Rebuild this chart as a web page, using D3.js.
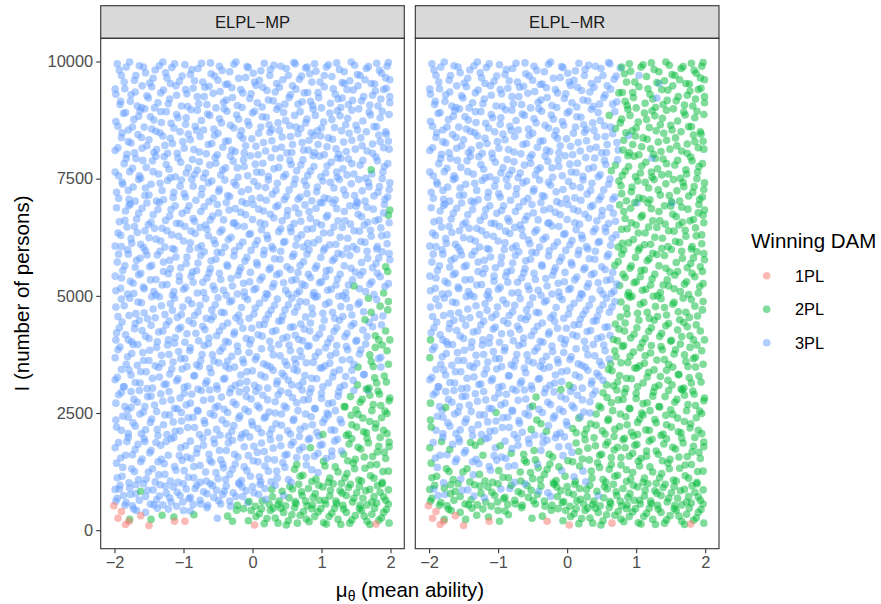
<!DOCTYPE html>
<html><head><meta charset="utf-8">
<script src="https://cdn.jsdelivr.net/npm/d3@7"></script>
<style>body{margin:0;background:#fff} text{font-family:"Liberation Sans",Arial,Helvetica,sans-serif}</style>
</head><body><svg id="c" width="881" height="604"></svg>
<script>
const panels = ["ELPL\u2212MP", "ELPL\u2212MR"];
const classes = ["1PL", "2PL", "3PL"];
const classColors = ["#F8766D", "#00BA38", "#619CFF"];
const xTicks = [-2, -1, 0, 1, 2];
const yTicks = [0, 2500, 5000, 7500, 10000];

// [mu, I] — winning DAM: 3PL in ELPL-MP and 3PL in ELPL-MR
const win3PL_3PL = [
[-1.96,9950],[-1.9,9700],[-1.83,9880],[-1.71,9600],[-1.64,9910],[-1.55,9760],[-1.49,9540],[-1.41,9820],[-1.3,9990],[-1.24,9650],[-1.17,9870],[-1.06,9580],[-0.98,9930],[-0.9,9720],[-0.79,9850],[-0.72,9560],[-0.61,9970],[-0.55,9690],[-0.44,9810],[-0.36,9520],[-0.27,9940],[-0.2,9640],[-0.08,9890],[0.01,9750],[0.1,9600],[0.17,9960],[0.26,9830],[0.35,9530],[0.41,9900],[0.52,9700],[0.6,9980],[0.68,9620],[0.77,9860],[1.33,9530],
[-1.98,9300],[-1.92,9080],[-1.85,9420],[-1.77,9150],[-1.7,9350],[-1.61,9020],[-1.53,9270],[-1.46,9460],[-1.37,9120],[-1.29,9390],[-1.2,9200],[-1.11,9480],[-1.03,9050],[-0.95,9310],[-0.86,9430],[-0.78,9100],[-0.7,9250],[-0.63,9470],[-0.53,9010],[-0.47,9360],[-0.38,9180],[-0.3,9440],[-0.22,9060],[-0.14,9330],[-0.04,9210],[0.05,9490],[0.14,9030],[0.21,9380],[0.3,9160],[0.39,9450],[0.47,9090],[0.55,9290],[0.63,9410],[0.72,9140],
[-1.95,8620],[-1.87,8890],[-1.8,8540],[-1.72,8760],[-1.63,8950],[-1.57,8600],[-1.48,8820],[-1.4,8510],[-1.32,8700],[-1.25,8930],[-1.14,8580],[-1.08,8800],[-0.97,8660],[-0.89,8970],[-0.81,8530],[-0.74,8740],[-0.65,8880],[-0.56,8560],[-0.48,8780],[-0.41,8990],[-0.32,8640],[-0.23,8860],[-0.16,8520],[-0.07,8720],[0.03,8940],[0.12,8600],[0.2,8810],[0.28,8550],[0.37,8690],[0.45,8910],[0.54,8630],
[-1.99,8100],[-1.9,8380],[-1.82,8020],[-1.76,8260],[-1.66,8440],[-1.6,8150],[-1.5,8330],[-1.43,8060],[-1.34,8480],[-1.27,8210],[-1.19,8360],[-1.09,8040],[-1.01,8290],[-0.93,8450],[-0.85,8120],[-0.76,8400],[-0.67,8030],[-0.59,8250],[-0.5,8470],[-0.43,8170],[-0.35,8310],[-0.25,8080],[-0.18,8420],[-0.1,8200],[-0.01,8350],[0.08,8010],[0.16,8270],[0.25,8490],[0.33,8140],[0.43,8390],[0.5,8050],[0.58,8230],[0.66,8460],[0.74,8110],
[-1.94,7560],[-1.86,7820],[-1.78,7650],[-1.69,7930],[-1.62,7510],[-1.54,7740],[-1.45,7880],[-1.36,7600],[-1.28,7970],[-1.21,7700],[-1.12,7540],[-1.04,7850],[-0.96,7620],[-0.87,7910],[-0.8,7680],[-0.71,7520],[-0.62,7790],[-0.54,7950],[-0.46,7580],[-0.39,7730],[-0.28,7870],[-0.21,7530],[-0.12,7760],[-0.03,7990],[0.06,7640],[0.15,7830],[0.23,7550],[0.31,7710],[0.4,7940],[0.48,7590],[0.56,7800],[0.73,7900],[1.23,7940],
[-1.97,7210],[-1.89,7430],[-1.79,7060],[-1.73,7320],[-1.65,7480],[-1.56,7140],[-1.47,7380],[-1.39,7020],[-1.31,7250],[-1.23,7460],[-1.15,7100],[-1.05,7340],[-0.99,7180],[-0.88,7490],[-0.82,7040],[-0.73,7290],[-0.64,7410],[-0.57,7080],[-0.49,7230],[-0.4,7470],[-0.33,7120],[-0.24,7360],[-0.15,7010],[-0.06,7270],[0.02,7440],[0.11,7090],[0.19,7310],[0.29,7170],[0.36,7400],[0.46,7050],[0.53,7260],[0.62,7490],[0.69,7110],[1.52,6980],
[-1.93,6580],[-1.84,6810],[-1.77,6960],[-1.68,6640],[-1.6,6870],[-1.51,6520],[-1.44,6730],[-1.35,6990],[-1.26,6610],[-1.18,6840],[-1.1,6550],[-1.02,6760],[-0.92,6920],[-0.84,6590],[-0.75,6800],[-0.68,6510],[-0.58,6700],[-0.51,6950],[-0.42,6620],[-0.34,6830],[-0.26,6560],[-0.17,6780],[-0.09,6970],[0.0,6630],[0.09,6850],[0.18,6530],[0.26,6740],[0.34,6900],[0.43,6600],[0.51,6820],[0.6,6540],[0.67,6760],
[-1.99,6060],[-1.91,6290],[-1.82,6470],[-1.75,6120],[-1.67,6350],[-1.58,6030],[-1.5,6240],[-1.42,6440],[-1.33,6170],[-1.24,6390],[-1.16,6010],[-1.07,6270],[-0.98,6480],[-0.9,6130],[-0.83,6330],[-0.74,6070],[-0.66,6420],[-0.56,6190],[-0.47,6360],[-0.4,6040],[-0.31,6250],[-0.22,6490],[-0.14,6150],[-0.05,6310],[0.04,6090],[0.13,6410],[0.22,6220],[0.3,6000],[0.38,6370],[0.47,6160],[0.55,6450],[0.63,6080],[0.71,6300],
[-1.96,5720],[-1.88,5540],[-1.8,5890],[-1.7,5610],[-1.63,5800],[-1.55,5960],[-1.46,5650],[-1.38,5870],[-1.29,5520],[-1.2,5760],[-1.13,5990],[-1.04,5600],[-0.95,5830],[-0.87,5510],[-0.79,5700],[-0.7,5940],[-0.61,5580],[-0.53,5780],[-0.45,5920],[-0.36,5630],[-0.27,5850],[-0.19,5530],[-0.11,5740],[-0.02,5970],[0.07,5660],[0.16,5880],[0.24,5560],[0.32,5790],[0.41,5950],[0.5,5620],[0.58,5840],[0.66,5500],
[-1.98,5110],[-1.9,5380],[-1.81,5040],[-1.73,5270],[-1.65,5450],[-1.57,5150],[-1.48,5340],[-1.4,5020],[-1.31,5230],[-1.22,5470],[-1.14,5090],[-1.06,5310],[-0.97,5180],[-0.89,5420],[-0.8,5060],[-0.72,5290],[-0.63,5490],[-0.55,5130],[-0.46,5350],[-0.38,5010],[-0.29,5210],[-0.21,5440],[-0.12,5080],[-0.04,5300],[0.05,5160],[0.14,5400],[0.22,5030],[0.31,5260],[0.39,5480],[0.48,5120],[0.57,5330],[0.64,5050],[0.72,5250],
[-1.95,4560],[-1.86,4790],[-1.78,4950],[-1.69,4620],[-1.61,4850],[-1.52,4510],[-1.44,4720],[-1.35,4980],[-1.27,4600],[-1.19,4830],[-1.09,4540],[-1.01,4760],[-0.93,4910],[-0.84,4580],[-0.76,4800],[-0.67,4520],[-0.59,4700],[-0.5,4960],[-0.41,4640],[-0.33,4870],[-0.24,4530],[-0.16,4750],[-0.07,4920],[0.02,4610],[0.1,4840],[0.19,4500],[0.27,4690],[0.36,4930],[0.44,4570],[0.52,4810],[0.61,4650],[0.69,4880],
[-1.97,4210],[-1.89,4440],[-1.8,4060],[-1.71,4300],[-1.64,4480],[-1.55,4140],[-1.47,4370],[-1.38,4020],[-1.3,4250],[-1.21,4460],[-1.12,4110],[-1.04,4330],[-0.95,4190],[-0.86,4410],[-0.78,4040],[-0.69,4280],[-0.6,4490],[-0.52,4150],[-0.43,4350],[-0.35,4010],[-0.26,4230],[-0.18,4450],[-0.09,4090],[-0.01,4310],[0.08,4170],[0.17,4390],[0.25,4030],[0.34,4260],[0.42,4470],[0.5,4120],[0.59,4340],
[-1.92,3910],[-1.83,3540],[-1.75,3770],[-1.66,3960],[-1.58,3620],[-1.49,3840],[-1.41,3510],[-1.32,3730],[-1.23,3950],[-1.15,3590],[-1.07,3810],[-0.98,3660],[-0.9,3890],[-0.81,3530],[-0.73,3750],[-0.64,3980],[-0.56,3610],[-0.47,3820],[-0.39,3500],[-0.3,3710],[-0.22,3930],[-0.13,3570],[-0.05,3790],[0.04,3640],[0.13,3870],[0.21,3520],[0.3,3740],[0.38,3960],[0.47,3600],[0.55,3830],
[-1.96,3260],[-1.87,3060],[-1.79,3420],[-1.7,3150],[-1.62,3380],[-1.53,3020],[-1.45,3240],[-1.36,3470],[-1.28,3110],[-1.2,3330],[-1.1,3190],[-1.02,3440],[-0.94,3070],[-0.85,3290],[-0.77,3490],[-0.68,3130],[-0.6,3360],[-0.51,3010],[-0.42,3220],[-0.34,3450],[-0.25,3090],[-0.17,3310],[-0.08,3170],[0.0,3400],[0.09,3040],[0.18,3270],[0.26,3480],[0.35,3120],[0.43,3350],[0.52,3200],
[-1.9,2940],[-1.81,2560],[-1.72,2790],[-1.64,2980],[-1.56,2640],[-1.47,2860],[-1.39,2530],[-1.3,2750],[-1.21,2960],[-1.13,2600],[-1.05,2820],[-0.96,2670],[-0.88,2900],[-0.79,2540],[-0.71,2770],[-0.62,2990],[-0.54,2620],[-0.36,2510],[-0.28,2730],[-0.19,2950],[-0.11,2580],[-0.02,2800],[0.07,2660],[0.15,2880],[0.24,2520],[0.33,2740],[0.41,2970],
[-1.88,2430],[-1.8,2060],[-1.73,2290],[-1.63,2480],[-1.55,2140],[-1.46,2370],[-1.37,2020],[-1.29,2250],[-1.2,2460],[-1.12,2110],[-1.03,2330],[-0.94,2190],[-0.86,2410],[-0.77,2040],[-0.69,2280],[-0.61,2490],[-0.35,2010],[-0.27,2230],[-0.18,2440],[-0.1,2080],[-0.01,2310],
[-1.91,1540],[-1.74,1610],[-1.66,1830],[-1.57,1950],[-1.49,1650],[-1.32,1510],[-1.14,1980],[-1.06,1590],[-0.89,1530],[-0.8,1740],[-0.72,1960],[-0.55,1850],[-0.38,1700],[-0.29,1920],[-0.12,1780],[-0.04,1990],[0.07,1660],
[-1.88,1340],[-1.79,1010],[-1.62,1460],[-1.54,1090],[-1.36,1180],[-1.28,1420],[-1.11,1280],[-1.02,1490],[-0.85,1360],[-0.76,1020],[-0.08,1270],[0.1,1140],[0.27,1030],
[-1.93,880],[-1.77,760],[-1.52,850],[-1.35,730],[-0.83,890],[-0.41,830],[-0.24,720],[0.45,740],
[-1.99,9410],[-1.93,9820],[-1.91,9150],[-1.86,9560],[-1.78,9990],[-1.76,9290],[-1.69,9700],[-1.67,9050],[-1.6,9480],[-1.58,9880],[-1.51,9220],[-1.44,9640],[-1.42,9010],[-1.35,9910],[-1.33,9330],[-1.26,9760],[-1.22,9100],[-1.19,9530],[-1.13,9950],[-1.1,9280],[-1.02,9690],[-0.97,9400],[-0.94,9040],[-0.88,9830],[-0.84,9590],[-0.8,9250],[-0.74,9960],[-0.69,9450],[-0.66,9080],[-0.6,9740],[-0.57,9320],[-0.5,9600],[-0.48,9900],[-0.42,9130],[-0.39,9510],[-0.33,9780],[-0.29,9230],[-0.24,9990],[-0.17,9400],[-0.15,9020],[-0.1,9660],[-0.06,9870],[-0.02,9310],[0.03,9560],[0.07,9120],[0.12,9800],[0.15,9450],[0.23,9180],[0.25,9700],[0.31,9920],[0.33,9350],[0.38,9040],[0.44,9610],[0.49,9850],[0.53,9230],[0.58,9480],[0.62,9950],[0.66,9090],[0.71,9690],[1.3,9220],[1.04,9700],
[-1.98,8720],[-1.95,8160],[-1.89,8480],[-1.84,8910],[-1.8,8290],[-1.74,8600],[-1.71,8050],[-1.65,8830],[-1.61,8380],[-1.56,8990],[-1.53,8200],[-1.46,8560],[-1.43,8750],[-1.39,8120],[-1.33,8930],[-1.3,8410],[-1.23,8040],[-1.18,8680],[-1.16,8250],[-1.1,8870],[-1.05,8500],[-0.99,8150],[-0.96,8800],[-0.9,8330],[-0.83,8620],[-0.8,8960],[-0.77,8070],[-0.71,8540],[-0.64,8230],[-0.62,8850],[-0.55,8420],[-0.51,8010],[-0.45,8690],[-0.39,8300],[-0.37,8940],[-0.3,8110],[-0.27,8580],[-0.2,8770],[-0.14,8360],[-0.12,8050],[-0.05,8640],[0.0,8900],[0.05,8190],[0.09,8470],[0.14,8820],[0.19,8090],[0.24,8650],[0.28,8310],[0.35,8980],[0.39,8530],[0.42,8170],[0.48,8740],[0.55,8400],[0.57,8060],[0.63,8600],[0.69,8930],[0.72,8270],[0.89,8420],
[-1.99,7640],[-1.94,7080],[-1.88,7380],[-1.83,7930],[-1.8,7250],[-1.74,7720],[-1.7,7020],[-1.64,7560],[-1.59,7890],[-1.55,7300],[-1.5,7150],[-1.44,7650],[-1.4,7980],[-1.34,7400],[-1.29,7050],[-1.25,7800],[-1.19,7520],[-1.14,7210],[-1.08,7940],[-1.03,7470],[-0.97,7110],[-0.93,7730],[-0.86,7340],[-0.84,7590],[-0.77,7860],[-0.74,7160],[-0.68,7620],[-0.63,7010],[-0.59,7450],[-0.53,7830],[-0.48,7280],[-0.43,7690],[-0.36,7140],[-0.32,7980],[-0.27,7420],[-0.22,7730],[-0.16,7220],[-0.13,7900],[-0.07,7560],[-0.01,7070],[0.04,7810],[0.08,7340],[0.13,7630],[0.2,7040],[0.23,7470],[0.27,7950],[0.34,7250],[0.38,7740],[0.45,7540],[0.49,7120],[0.54,7890],[0.6,7380],[0.66,7060],[1.01,6980],
[-1.97,6880],[-1.95,6340],[-1.9,6050],[-1.85,6610],[-1.79,6930],[-1.76,6220],[-1.71,6480],[-1.65,6760],[-1.62,6100],[-1.56,6390],[-1.53,6980],[-1.47,6570],[-1.4,6210],[-1.37,6840],[-1.31,6440],[-1.27,6040],[-1.2,6700],[-1.17,6300],[-1.12,6920],[-1.05,6540],[-1.0,6170],[-0.95,6820],[-0.89,6380],[-0.86,6650],[-0.79,6020],[-0.76,6460],[-0.7,6900],[-0.64,6280],[-0.61,6620],[-0.54,6110],[-0.49,6770],[-0.44,6410],[-0.38,6990],[-0.35,6200],[-0.28,6550],[-0.25,6860],[-0.19,6060],[-0.12,6480],[-0.1,6730],[-0.03,6330],[0.01,6950],[0.07,6180],[0.11,6560],[0.16,6810],[0.21,6290],[0.28,6050],[0.31,6660],[0.37,6930],[0.41,6430],[0.45,6140],[0.5,6710],[0.56,6370],[0.62,6880],[0.65,6230],[0.7,6590],
[-1.99,5420],[-1.94,5890],[-1.91,5160],[-1.85,5640],[-1.81,5980],[-1.77,5310],[-1.72,5050],[-1.68,5760],[-1.62,5480],[-1.58,5190],[-1.53,5870],[-1.49,5620],[-1.43,5090],[-1.4,5350],[-1.34,5950],[-1.29,5720],[-1.24,5240],[-1.19,5580],[-1.16,5010],[-1.11,5830],[-1.06,5420],[-1.0,5140],[-0.96,5690],[-0.91,5990],[-0.86,5290],[-0.81,5540],[-0.75,5860],[-0.71,5070],[-0.66,5380],[-0.6,5750],[-0.57,5210],[-0.51,5930],[-0.48,5480],[-0.42,5120],[-0.37,5660],[-0.31,5370],[-0.26,5960],[-0.22,5040],[-0.17,5600],[-0.13,5270],[-0.08,5820],[-0.03,5500],[0.02,5130],[0.06,5710],[0.11,5340],[0.17,5970],[0.2,5050],[0.26,5600],[0.29,5190],[0.35,5450],[0.4,5780],[0.45,5280],[0.52,5040],[0.55,5560],[0.6,5890],[0.63,5350],[0.68,5100],
[-1.98,4760],[-1.93,4320],[-1.9,4930],[-1.84,4170],[-1.79,4580],[-1.75,4020],[-1.7,4410],[-1.66,4870],[-1.6,4260],[-1.57,4640],[-1.5,4090],[-1.46,4980],[-1.41,4530],[-1.36,4230],[-1.32,4790],[-1.25,4380],[-1.22,4060],[-1.16,4690],[-1.13,4950],[-1.07,4290],[-1.03,4600],[-0.98,4010],[-0.92,4470],[-0.88,4830],[-0.82,4200],[-0.79,4660],[-0.72,4350],[-0.68,4940],[-0.63,4100],[-0.57,4560],[-0.54,4810],[-0.48,4250],[-0.45,4650],[-0.39,4030],[-0.36,4420],[-0.3,4900],[-0.27,4180],[-0.2,4590],[-0.14,4310],[-0.11,4980],[-0.05,4520],[-0.02,4060],[0.04,4740],[0.1,4380],[0.14,4140],[0.18,4950],[0.23,4600],[0.29,4240],[0.32,4800],[0.38,4460],[0.44,4090],[0.47,4700],[0.55,4330],[0.57,4950],[0.62,4160],[0.65,4760],
[-1.99,3210],[-1.95,3850],[-1.9,3430],[-1.86,3060],[-1.81,3700],[-1.76,3310],[-1.73,3960],[-1.67,3520],[-1.63,3140],[-1.59,3790],[-1.54,3380],[-1.5,3620],[-1.45,3030],[-1.39,3900],[-1.35,3270],[-1.31,3560],[-1.25,3120],[-1.21,3750],[-1.17,3440],[-1.13,3990],[-1.08,3230],[-1.04,3660],[-0.99,3050],[-0.95,3490],[-0.91,3830],[-0.84,3300],[-0.79,3010],[-0.75,3620],[-0.7,3940],[-0.66,3180],[-0.62,3460],[-0.58,3740],[-0.52,3080],[-0.49,3570],[-0.43,3890],[-0.4,3240],[-0.36,3610],[-0.31,3020],[-0.26,3480],[-0.21,3810],[-0.18,3140],[-0.14,3640],[-0.08,3380],[-0.04,3970],[0.06,3700],[0.12,3310],[0.16,3550],[0.22,3030],[0.27,3880],[0.3,3410],[0.36,3180],[0.4,3720],[0.46,3290],[0.5,3520],[0.53,3950],[0.61,3650],
[-1.94,2890],[-1.9,2130],[-1.85,2640],[-1.8,2410],[-1.76,2960],[-1.7,2220],[-1.67,2730],[-1.61,2060],[-1.58,2520],[-1.52,2850],[-1.48,2300],[-1.42,2670],[-1.38,2150],[-1.33,2910],[-1.27,2460],[-1.24,2040],[-1.18,2780],[-1.15,2310],[-1.09,2590],[-1.05,2120],[-0.99,2920],[-0.93,2400],[-0.9,2710],[-0.84,2190],[-0.8,2560],[-0.74,2980],[-0.7,2340],[-0.65,2090],[-0.6,2800],[-0.56,2450],[-0.47,2030],[-0.41,2580],[-0.33,2930],[-0.24,2680],[-0.2,2390],[-0.15,2040],[-0.09,2850],[-0.06,2530],[0.0,2240],[0.05,2960],[0.1,2610],[0.19,2420],[0.22,2780],[0.33,2500],[0.37,2890],
[-1.84,1600],[-1.6,1520],[-1.37,1460],[-1.13,1360],[-0.95,1560],[-0.76,1380],[-0.43,1410],[-0.06,1590],[-1.94,1870],[-1.8,1980],[-1.56,1890],[-1.47,1700],[-1.18,1950],[-1.04,1760],[-0.9,1900],[-0.71,1810],[-0.56,1940],[-0.35,1860],[-0.17,1970],[0.02,1790],[0.23,1260],
[-1.87,740],[-1.44,860],[-1.2,690],[-0.96,880],[-0.61,990],[-0.28,800]
];

// winning DAM: 3PL in ELPL-MP, 2PL in ELPL-MR
const win3PL_2PL = [
[0.83,9740],[0.9,9950],[0.98,9560],[1.07,9880],[1.15,9680],[1.22,9970],[1.33,9780],[1.41,9590],[1.48,9920],[1.56,9700],[1.65,9850],[1.72,9530],[1.8,9960],[1.87,9750],[1.95,9900],[1.99,9610],
[0.8,9340],[0.87,9060],[0.96,9230],[1.04,9460],[1.13,9110],[1.2,9300],[1.28,9020],[1.37,9400],[1.45,9170],[1.53,9480],[1.61,9250],[1.7,9070],[1.78,9370],[1.86,9200],[1.94,9430],[1.99,9120],
[0.61,8850],[0.7,8570],[0.79,8770],[0.88,8980],[0.94,8520],[1.03,8710],[1.12,8900],[1.19,8590],[1.27,8840],[1.35,8650],[1.44,8960],[1.52,8540],[1.6,8730],[1.69,8920],[1.76,8610],[1.85,8800],[1.93,8500],[1.98,8870],
[0.82,8320],[0.9,8060],[0.99,8410],[1.08,8180],[1.16,8340],[1.25,8020],[1.32,8280],[1.4,8470],[1.49,8130],[1.57,8370],[1.66,8090],[1.74,8240],[1.83,8430],[1.9,8160],[1.97,8300],
[0.64,7670],[0.8,7570],[0.89,7760],[0.97,7980],[1.06,7620],[1.14,7850],[1.23,7530],[1.31,7710],[1.39,7920],[1.47,7600],[1.56,7790],[1.64,7510],[1.81,7880],[1.89,7640],[1.96,7820],
[0.78,7350],[0.86,7030],[0.93,7220],[1.02,7450],[1.1,7070],[1.18,7300],[1.26,7480],[1.35,7150],[1.43,7390],[1.51,7010],[1.59,7240],[1.68,7420],[1.76,7130],[1.84,7330],[1.92,7060],[1.98,7270],
[0.76,6940],[0.84,6650],[0.92,6870],[1.0,6510],[1.09,6720],[1.17,6980],[1.24,6600],[1.33,6800],[1.42,6530],[1.5,6910],[1.58,6690],[1.67,6570],[1.75,6850],[1.83,6630],[1.91,6950],
[0.8,6120],[0.87,6430],[0.96,6200],[1.05,6020],[1.13,6340],[1.21,6100],[1.3,6460],[1.38,6230],[1.46,6050],[1.55,6380],[1.63,6140],[1.71,6400],[1.8,6000],[1.87,6280],[1.95,6110],
[0.74,5730],[0.82,5980],[0.91,5590],[0.99,5820],[1.07,5540],[1.16,5750],[1.24,5910],[1.33,5640],[1.41,5860],[1.49,5510],[1.58,5710],[1.66,5950],[1.74,5600],[1.83,5810],[1.98,5900],
[0.81,5460],[0.89,5070],[0.97,5280],[1.06,5410],[1.14,5140],[1.23,5360],[1.31,5000],[1.39,5230],[1.56,5440],[1.64,5090],[1.73,5300],[1.81,5480],[1.97,5260],
[0.77,4550],[0.86,4740],[0.94,4990],[1.02,4630],[1.11,4860],[1.19,4520],[1.28,4770],[1.36,4940],[1.44,4590],[1.53,4820],[1.61,4660],[1.77,4540],
[-1.98,4060],[0.67,4070],[0.75,4290],[0.84,4420],[0.92,4100],[1.01,4320],[1.09,4000],[1.18,4240],[1.26,4480],[1.34,4130],[1.43,4360],[1.51,4050],[1.6,4270],[1.69,4430],[1.87,4380],
[-1.99,3680],[0.63,3550],[0.71,3700],[0.8,3920],[0.88,3580],[0.96,3800],[1.05,3510],[1.13,3720],[1.22,3940],[1.3,3630],[1.38,3850],[1.47,3540],[1.55,3760],[1.64,3970],[1.86,3690],
[-0.09,3000],[0.6,3430],[0.67,3080],[0.76,3300],[0.85,3020],[0.93,3230],[1.01,3460],[1.1,3140],[1.18,3370],[1.27,3050],[1.35,3280],[1.44,3410],[1.61,3320],[1.86,3480],
[-1.98,2710],[-1.76,2620],[-1.03,2510],[-0.45,2840],[0.49,2610],[0.58,2830],[0.66,2550],[0.74,2780],[0.83,2930],[0.91,2590],[1.0,2810],[1.08,2500],[1.16,2720],[1.25,2950],[1.67,2990],
[-1.97,2200],[-0.52,2150],[-0.44,2350],[0.08,2170],[0.17,2390],[0.25,2050],[0.34,2270],[0.42,2480],[0.51,2120],[0.59,2340],[0.68,2000],[0.76,2210],[0.85,2420],[0.93,2090],[1.02,2300],[1.1,2460],[1.19,2130],[1.27,2360],
[-1.99,1760],[-1.82,1890],[-1.4,1870],[-1.25,1890],[-0.97,1800],[-0.63,1620],[-0.46,1500],[-0.21,1560],[0.13,1860],[0.22,1520],[0.3,1750],[0.39,1970],[0.47,1600],[0.56,1820],[0.64,1550],[0.73,1770],[0.81,1930],[0.9,1580],[0.98,1810],[1.07,1530],[1.15,1690],[1.23,1940],
[-1.96,1120],[-1.71,1250],[-1.45,1310],[-1.19,1050],[-0.93,1130],[-0.68,1240],[-0.59,1450],[-0.5,1100],[-0.42,1330],[-0.33,1190],[-0.25,1410],[-0.16,1060],[0.01,1480],[0.18,1370],[0.35,1260],[0.44,1440],[0.52,1080],[0.78,1390],[0.95,1230],
[-1.98,620],[-1.85,530],[-1.69,970],[-1.43,540],[-1.26,940],[-1.18,600],[-1.09,810],[-1.0,990],[-0.92,670],[-0.75,560],[-0.66,780],[-0.58,950],[-0.49,630],[-0.32,510],[-0.15,920],[-0.07,590],[0.02,800],[0.11,980],[0.19,660],
[-1.72,450],[-1.55,380],[-1.38,470],[-1.22,450],[-0.9,410],[-0.66,480],[-0.51,255],
[0.75,9330],[0.79,9880],[0.84,9150],[0.86,9560],[0.92,9790],[0.95,9340],[1.0,9010],[1.1,9930],[1.17,9420],[1.24,9200],[1.26,9830],[1.3,9550],[1.39,9080],[1.43,9990],[1.46,9390],[1.52,9720],[1.58,9160],[1.63,9610],[1.68,9890],[1.74,9280],[1.77,9520],[1.82,9050],[1.84,9810],[1.9,9400],[1.93,9650],[1.97,9980],[1.99,9250],
[0.77,8690],[0.81,8110],[0.85,8480],[0.91,8850],[0.95,8230],[1.0,8580],[1.04,8010],[1.1,8370],[1.15,8760],[1.21,8140],[1.23,8950],[1.29,8520],[1.36,8080],[1.38,8790],[1.44,8320],[1.5,8640],[1.54,8990],[1.59,8200],[1.65,8500],[1.71,8860],[1.74,8040],[1.8,8610],[1.85,8290],[1.88,8940],[1.94,8450],[1.98,8130],
[0.7,7790],[0.75,7450],[0.79,7180],[0.84,7660],[0.88,7990],[0.94,7320],[0.99,7540],[1.04,7090],[1.08,7770],[1.13,7420],[1.2,7050],[1.22,7640],[1.28,7930],[1.32,7260],[1.37,7580],[1.44,7820],[1.48,7140],[1.54,7480],[1.6,7890],[1.63,7020],[1.69,7330],[1.73,7600],[1.79,7960],[1.82,7210],[1.88,7500],[1.91,7760],[1.96,7110],[1.99,7410],
[0.74,6040],[0.79,6420],[0.82,6800],[0.89,6130],[0.93,6560],[0.98,6990],[1.03,6340],[1.07,6680],[1.12,6090],[1.18,6470],[1.22,6860],[1.27,6250],[1.34,6600],[1.37,6010],[1.41,6920],[1.47,6390],[1.53,6740],[1.57,6160],[1.62,6510],[1.66,6890],[1.72,6270],[1.78,6600],[1.81,6050],[1.86,6450],[1.9,6770],[1.95,6300],[1.98,6560],
[0.69,5650],[0.76,5220],[0.79,5890],[0.84,5390],[0.88,5010],[0.93,5640],[1.0,5300],[1.03,5970],[1.09,5120],[1.12,5550],[1.19,5790],[1.21,5230],[1.27,5460],[1.3,5880],[1.35,5070],[1.43,5590],[1.45,5340],[1.51,5990],[1.55,5150],[1.6,5520],[1.67,5800],[1.7,5250],[1.76,5030],[1.79,5690],[1.85,5410],[1.88,5940],[1.92,5200],[1.99,5770],
[0.7,4400],[0.73,4040],[0.78,4870],[0.83,4250],[0.87,4610],[0.91,4970],[0.97,4180],[1.04,4480],[1.06,4820],[1.13,4090],[1.16,4650],[1.22,4320],[1.25,4990],[1.31,4560],[1.37,4200],[1.41,4750],[1.47,4410],[1.5,4030],[1.55,4860],[1.66,4130],[1.74,4340],[1.8,4920],[1.89,4570],
[0.03,3090],[0.57,3100],[0.65,3400],[0.69,3830],[0.73,3160],[0.78,3570],[0.82,3940],[0.86,3240],[0.91,3710],[0.98,3460],[1.02,3060],[1.06,3890],[1.12,3560],[1.16,3270],[1.21,3780],[1.26,3420],[1.33,3090],[1.36,3920],[1.41,3640],[1.46,3200],[1.57,3850],[1.62,3320],[1.83,3660],
[-1.98,2350],[-0.5,2650],[-0.38,2270],[-0.3,2110],[0.13,2080],[0.28,2160],[0.42,2240],[0.46,2650],[0.52,2930],[0.55,2050],[0.6,2370],[0.64,2720],[0.69,2150],[0.72,2990],[0.77,2480],[0.81,2790],[0.87,2250],[0.9,2600],[0.96,2010],[1.0,2920],[1.05,2370],[1.1,2700],[1.14,2140],[1.2,2550],[1.24,2860],[1.29,2290],[1.47,2980],
[-1.97,1430],[-1.89,1150],[-1.75,1310],[-1.65,1080],[-1.51,1240],[-1.41,1030],[-1.27,1190],[-1.22,1600],[-1.08,1020],[-0.99,1270],[-0.85,1120],[-0.67,1050],[-0.62,1490],[-0.53,1230],[-0.39,1080],[-0.29,1300],[-0.2,1010],[-0.12,1350],[-0.03,1150],[-1.7,1720],[-1.33,1810],[-0.81,1640],[-0.48,1700],[-0.26,1620],[0.08,1460],[0.12,1040],[0.17,1680],[0.26,1930],[0.32,1500],[0.36,1110],[0.41,1800],[0.47,1340],[0.5,1620],[0.56,1020],[0.59,1880],[0.68,1710],[0.78,1550],[0.83,1960],[0.95,1640],[1.01,1830],[1.15,1580],[1.19,1900],[0.86,1290],[1.29,1690],
[-1.99,870],[-1.96,680],[-1.92,960],[-1.83,590],[-1.78,900],[-1.74,520],[-1.69,780],[-1.64,640],[-1.58,990],[-1.55,720],[-1.48,560],[-1.39,650],[-1.34,970],[-1.3,540],[-1.25,790],[-1.15,920],[-1.1,510],[-1.05,740],[-1.01,600],[-0.9,700],[-0.86,550],[-0.81,960],[-0.76,640],[-0.71,820],[-0.65,530],[-0.56,700],[-0.52,850],[-0.46,560],[-0.43,760],[-0.38,940],[-0.33,620],[-0.19,980],[-0.14,720],[-0.09,840],[0.0,930],[0.09,760],[0.18,890],[0.33,960],[-1.68,420],[-1.0,420]
];

// winning DAM: 2PL in both
const win2PL_2PL = [
[1.72,7690],[1.97,6720],[1.99,6830],[1.93,5620],[1.47,5210],[1.9,5060],[1.68,4950],[1.85,4780],[1.96,4700],[1.78,4150],[1.99,4060],
[1.72,3600],[1.78,3900],[1.95,3830],[1.52,3100],[1.69,3030],[1.77,3250],[1.94,3160],
[1.34,2630],[1.42,2850],[1.5,2570],[1.59,2790],[1.75,2680],[1.84,2900],[1.92,2540],[1.98,2760],
[1.02,2040],[1.36,2020],[1.44,2250],[1.53,2470],[1.61,2100],[1.7,2320],[1.78,2180],[1.87,2400],[1.95,2060],
[0.84,1760],[1.32,1620],[1.4,1840],[1.49,1510],[1.57,1730],[1.66,1960],[1.74,1570],[1.83,1790],[1.91,1660],[1.98,1880],
[0.61,1300],[0.69,1150],[0.86,1040],[1.03,1470],[1.12,1110],[1.2,1350],[1.29,1000],[1.37,1210],[1.46,1430],[1.54,1070],[1.63,1320],[1.71,1160],[1.8,1400],[1.88,1020],[1.97,1260],
[-1.62,830],[0.28,870],[0.37,550],[0.54,930],[0.62,610],[0.71,820],[0.79,520],[0.88,700],[0.96,960],[1.05,640],[1.13,850],[1.22,570],[1.3,790],[1.39,910],[1.47,680],[1.56,530],[1.64,840],[1.73,600],[1.81,950],[1.9,710],[1.97,560],
[-1.78,230],[-1.47,230],[-1.31,320],[-1.14,280],[-0.36,300],[-0.23,425],[-0.13,460],[-0.06,200],[0.1,350],[0.17,140],[0.26,420],[0.33,260],[0.41,470],[0.49,110],[0.57,330],[0.74,400],[0.82,180],[0.9,290],[0.99,460],[1.07,130],[1.15,360],[1.24,230],[1.32,450],[1.41,150],[1.49,310],[1.58,420],[1.66,190],[1.73,340],[1.87,260],[1.94,440],[1.98,150],
[1.96,5520],[1.63,4490],[1.72,4650],[1.83,4060],[1.93,4250],[1.97,4880],
[1.53,3480],[1.65,3010],[1.7,3740],[1.75,3490],[1.8,3140],[1.88,3950],[1.91,3290],[1.97,3540],
[1.33,2640],[1.39,2050],[1.43,2450],[1.51,2200],[1.56,2730],[1.6,2390],[1.65,2080],[1.7,2880],[1.73,2550],[1.79,2270],[1.82,2970],[1.86,2660],[1.9,2130],[1.95,2490],[1.99,2820],
[0.64,1400],[0.73,1170],[0.92,1090],[1.05,1370],[1.1,1020],[1.24,1240],[1.34,1120],[1.38,1480],[1.48,1310],[1.58,1050],[1.71,1390],[1.76,1110],[1.89,1250],[1.44,1950],[1.53,1770],[1.62,1560],[1.68,1860],[1.81,1670],[1.85,1980],[1.93,1530],[1.98,1780],
[-0.22,530],[-0.05,610],[0.04,510],[0.14,620],[0.24,560],[0.29,710],[0.39,620],[0.43,830],[0.48,520],[0.53,690],[0.58,880],[0.63,570],[0.67,980],[0.72,740],[0.77,620],[0.81,890],[0.87,540],[0.91,780],[0.97,640],[1.02,920],[1.06,560],[1.12,730],[1.17,990],[1.21,620],[1.27,840],[1.31,530],[1.36,740],[1.42,980],[1.45,600],[1.51,800],[1.55,930],[1.6,680],[1.66,540],[1.7,870],[1.76,720],[1.8,580],[1.85,810],[1.88,990],[1.93,640],[1.97,860],
[1.9,380],[1.83,210],[1.77,470],[1.7,120],[1.62,300],[1.55,460],[1.44,220],[1.36,380],[1.28,120],[1.19,470],[1.11,290],[1.03,160],[0.95,390],[0.86,460],[0.78,240],[0.69,320],[0.61,480],[0.52,200],[0.45,380],[0.37,150],[0.3,470],[0.21,250],[0.13,460],[0.05,290],[-0.02,420],[-0.85,330]
];

// winning DAM: 1PL in both
const win1PL_1PL = [[-2.01,520],[-1.9,400],[-1.95,255],[-1.84,120],[-1.79,190],[-1.62,310],[-1.5,100],[-1.13,190],[0.03,110],[1.79,130]];
// winning DAM: 1PL in ELPL-MP, 2PL in ELPL-MR
const win1PL_2PL = [[-0.98,190]];
// winning DAM: 2PL in ELPL-MP, 1PL in ELPL-MR
const win2PL_1PL = [[-0.29,190],[0.65,150]];

const groups = [
  {mp: "3PL", mr: "3PL", pts: win3PL_3PL},
  {mp: "3PL", mr: "2PL", pts: win3PL_2PL},
  {mp: "2PL", mr: "2PL", pts: win2PL_2PL},
  {mp: "1PL", mr: "2PL", pts: win1PL_2PL},
  {mp: "2PL", mr: "1PL", pts: win2PL_1PL},
  {mp: "1PL", mr: "1PL", pts: win1PL_1PL}
];

const rows = [];
groups.forEach(g => g.pts.forEach(p => rows.push({mu: p[0], n: p[1], mp: g.mp, mr: g.mr})));
const redLast = d => (d.mp === "1PL" || d.mr === "1PL") ? 1 : 0;
rows.sort((a, b) => (redLast(a) - redLast(b)) || (a.n - b.n));

const svg = d3.select("#c");
const color = d3.scaleOrdinal().domain(classes).range(classColors);
const panelX = [[100.7, 404.3], [415.3, 719.0]];
const panelTop = 38.3, panelBottom = 548.7, stripTop = 5.7;
const y = d3.scaleLinear().domain([-395, 10495]).range([panelBottom, panelTop]);
const font = '"Liberation Sans", Arial, Helvetica, sans-serif';

panels.forEach((name, i) => {
  const [x0, x1] = panelX[i];
  const x = d3.scaleLinear().domain([-2.2, 2.2]).range([x0, x1]);
  const g = svg.append("g");
  g.append("rect").attr("x", x0).attr("y", stripTop).attr("width", x1 - x0).attr("height", panelTop - stripTop)
    .attr("fill", "#D9D9D9").attr("stroke", "#333333").attr("stroke-width", 1.1);
  g.append("text").attr("x", (x0 + x1) / 2).attr("y", (stripTop + panelTop) / 2).attr("dy", "0.36em")
    .attr("text-anchor", "middle").attr("font-size", 16.6).attr("fill", "#1A1A1A").text(name);
  const key = i === 0 ? "mp" : "mr";
  g.append("g").selectAll("circle").data(rows).join("circle")
    .attr("cx", d => x(d.mu)).attr("cy", d => y(d.n)).attr("r", 3.8)
    .attr("fill", d => color(d[key])).attr("fill-opacity", 0.5);
  g.append("rect").attr("x", x0).attr("y", panelTop).attr("width", x1 - x0).attr("height", panelBottom - panelTop)
    .attr("fill", "none").attr("stroke", "#333333").attr("stroke-width", 1.1);
  const xa = g.append("g").attr("transform", `translate(0,${panelBottom})`)
    .call(d3.axisBottom(x).tickValues(xTicks).tickSize(4.5).tickPadding(3).tickFormat(d => d < 0 ? "\u2212" + Math.abs(d) : String(d)));
  xa.select(".domain").remove();
  xa.selectAll("line").attr("stroke", "#333333").attr("stroke-width", 1.1);
  xa.selectAll("text").attr("fill", "#4D4D4D").attr("font-size", 16.4).attr("font-family", font);
  if (i === 0) {
    const ya = g.append("g").attr("transform", `translate(${x0},0)`)
      .call(d3.axisLeft(y).tickValues(yTicks).tickSize(4.5).tickPadding(3).tickFormat(d3.format("d")));
    ya.select(".domain").remove();
    ya.selectAll("line").attr("stroke", "#333333").attr("stroke-width", 1.1);
    ya.selectAll("text").attr("fill", "#4D4D4D").attr("font-size", 16.4).attr("font-family", font);
  }
});

svg.append("text").attr("transform", `translate(29,${(panelTop + panelBottom) / 2}) rotate(-90)`)
  .attr("text-anchor", "middle").attr("font-size", 20.5).attr("fill", "#000").text("I (number of persons)");
const xt = svg.append("text").attr("x", 410).attr("y", 597).attr("text-anchor", "middle").attr("font-size", 20.5).attr("fill", "#000");
xt.append("tspan").text("\u03BC");
xt.append("tspan").attr("font-size", 14).attr("dy", 4).text("\u03B8");
xt.append("tspan").attr("dy", -4).text(" (mean ability)");

svg.append("text").attr("x", 751).attr("y", 241).attr("dy", "0.36em").attr("font-size", 20.5).attr("fill", "#000").text("Winning DAM");
const ly = [275.7, 309.3, 342.7];
classes.forEach((c, k) => {
  svg.append("circle").attr("cx", 766.7).attr("cy", ly[k]).attr("r", 3.8).attr("fill", color(c)).attr("fill-opacity", 0.5);
  svg.append("text").attr("x", 795).attr("y", ly[k]).attr("dy", "0.36em").attr("font-size", 16.4).attr("fill", "#000").text(c);
});
</script></body></html>
